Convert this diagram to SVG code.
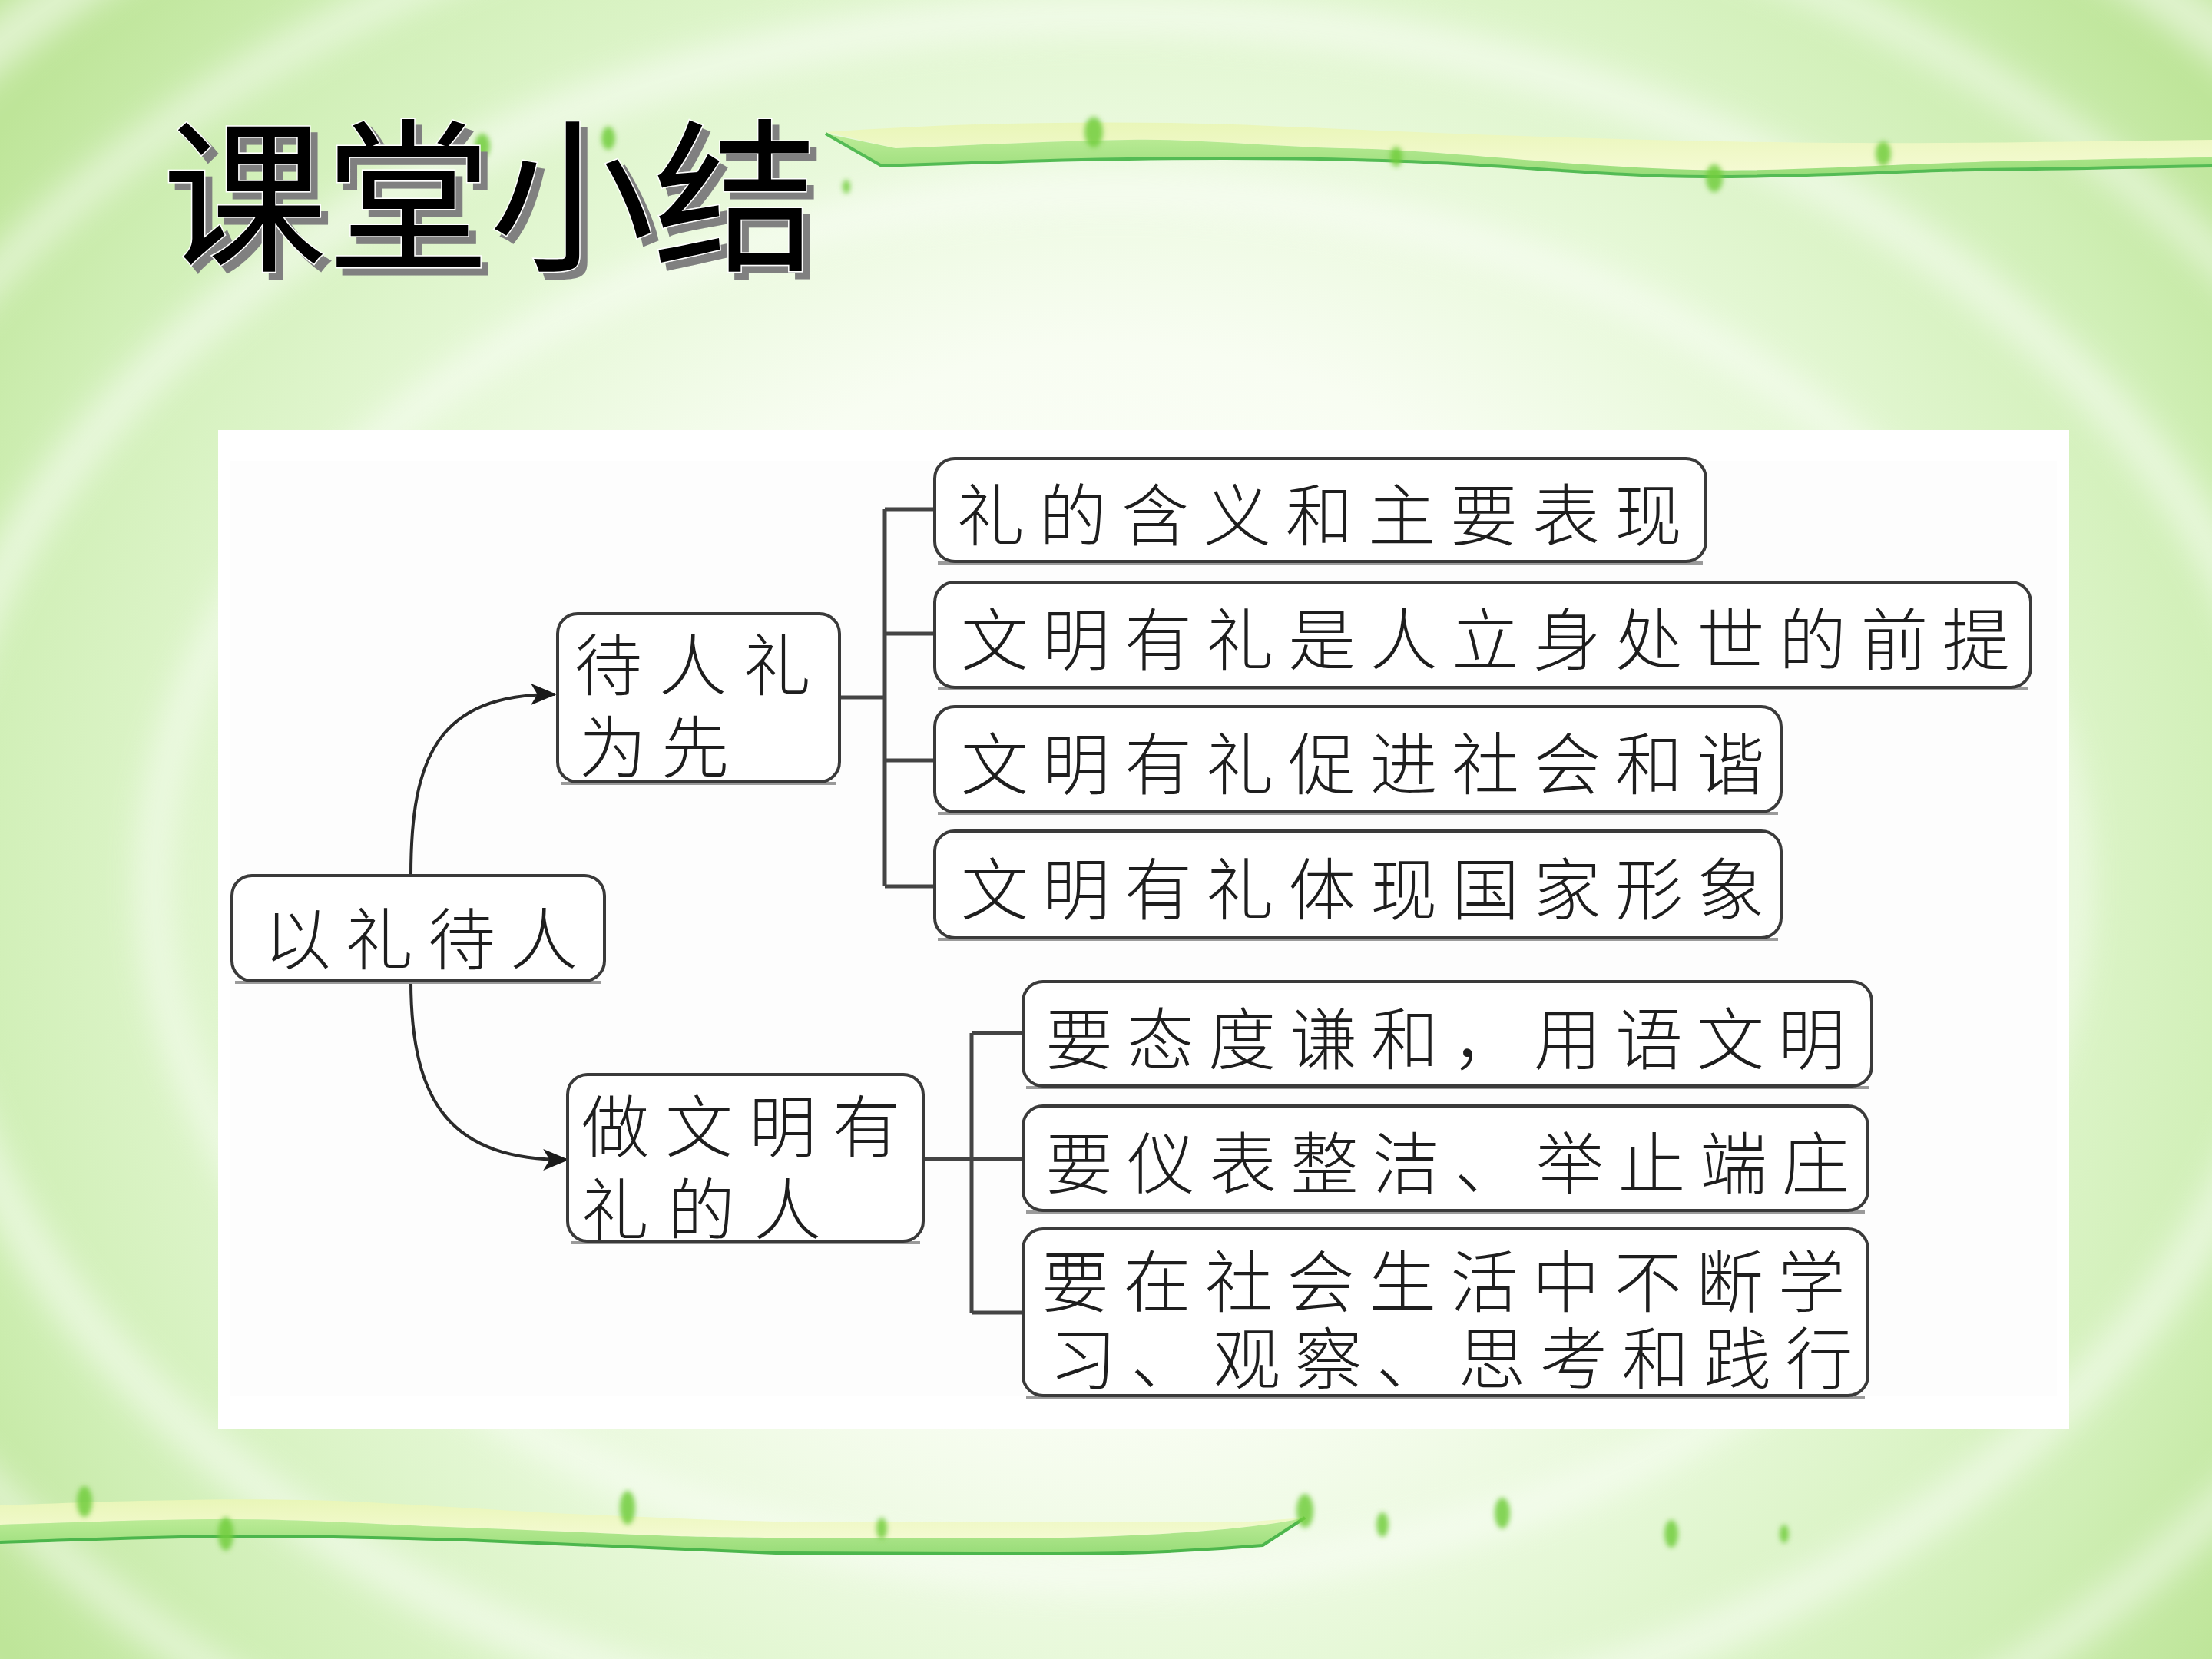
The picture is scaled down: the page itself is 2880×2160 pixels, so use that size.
<svg xmlns="http://www.w3.org/2000/svg" width="2880" height="2160" viewBox="0 0 2880 2160">
<defs>
<style>
.box{fill:#ffffff;stroke:#3a3a3a;stroke-width:4}
.shadow{fill:none;stroke:#9a9a9a;stroke-width:4}
.lbl{font-family:"Noto Sans CJK SC","Noto Sans CJK TC",sans-serif;font-size:88px;font-weight:300;fill:#1e1e1e;dominant-baseline:central}
.line{fill:none;stroke:#444444;stroke-width:5}
.arrow{fill:none;stroke:#2a2a2a;stroke-width:4}
.title{font-family:"Noto Sans CJK SC",sans-serif;font-size:215px;font-weight:400}
.leaf{fill:#72cc3c;opacity:0.85}
</style>
<radialGradient id="bg" cx="1450" cy="1150" r="1750" gradientUnits="userSpaceOnUse">
<stop offset="0" stop-color="#ffffff"/>
<stop offset="0.4" stop-color="#f8fdf2"/>
<stop offset="0.6" stop-color="#e6f8d7"/>
<stop offset="0.85" stop-color="#d0efb6"/>
<stop offset="1" stop-color="#bee599"/>
</radialGradient>
<filter id="blur" x="-20%" y="-20%" width="140%" height="140%"><feGaussianBlur stdDeviation="22"/></filter>
<filter id="blur2" x="-50%" y="-50%" width="200%" height="200%"><feGaussianBlur stdDeviation="3"/></filter>
<filter id="tshadow" x="-5%" y="-10%" width="115%" height="130%">
<feOffset in="SourceAlpha" dx="9" dy="9" result="off"/>
<feFlood flood-color="#808080"/>
<feComposite in2="off" operator="in" result="sh"/>
<feMerge><feMergeNode in="sh"/><feMergeNode in="SourceGraphic"/></feMerge>
</filter>
<linearGradient id="yel" x1="0" y1="0" x2="0" y2="1">
<stop offset="0" stop-color="#e9f6b8"/>
<stop offset="1" stop-color="#f4fad2"/>
</linearGradient>
<linearGradient id="grn" x1="0" y1="0" x2="0" y2="1">
<stop offset="0" stop-color="#bdec98"/>
<stop offset="1" stop-color="#98dc78"/>
</linearGradient>
<marker id="ahb" viewBox="0 0 12 10" refX="11" refY="5" markerWidth="36" markerHeight="28" markerUnits="userSpaceOnUse" orient="auto">
<path d="M0,0 L12,5 L0,10 L3,5 Z" fill="#1a1a1a"/>
</marker>
</defs>

<g id="background">
<rect x="0" y="0" width="2880" height="2160" fill="url(#bg)"/>
<g filter="url(#blur)" fill="none" stroke="#ffffff" opacity="0.55">
<ellipse cx="1450" cy="1150" rx="1250" ry="900" stroke-width="40"/>
<ellipse cx="1450" cy="1150" rx="1550" ry="1130" stroke-width="50"/>
<ellipse cx="1450" cy="1150" rx="1800" ry="1350" stroke-width="40"/>
<ellipse cx="1450" cy="1150" rx="2050" ry="1550" stroke-width="60"/>
</g>
</g>

<g id="top-ribbon">
<path d="M1075,172 C1250,160 1450,155 1653,164 C1850,172 2100,184 2388,186 C2600,187 2750,183 2880,182 L2880,205 C2750,207 2650,209 2572,211 C2420,216 2300,224 2204,221 C2000,214 1880,195 1745,193 C1640,190 1550,180 1469,182 C1350,184 1250,190 1166,193 Z" fill="url(#yel)"/>
<path d="M1075,174 L1166,193 C1250,190 1350,184 1469,182 C1550,180 1640,190 1745,193 C1880,195 2000,214 2204,221 C2300,224 2420,216 2572,211 C2650,209 2750,207 2880,205 L2880,216 C2800,217 2700,220 2572,221 C2480,222 2380,230 2222,230 C2090,230 1950,213 1800,209 C1700,206 1600,205 1469,207 C1380,208 1260,212 1148,216 Z" fill="url(#grn)"/>
<path d="M1075,174 L1148,216 C1260,212 1380,208 1469,207 C1600,205 1700,206 1800,209 C1950,213 2090,230 2222,230 C2380,230 2480,222 2572,221 C2700,220 2800,217 2880,216" fill="none" stroke="#54bb54" stroke-width="4"/>
<g filter="url(#blur2)">
<ellipse class="leaf" cx="1424" cy="172" rx="12" ry="20"/>
<ellipse class="leaf" cx="1818" cy="204" rx="8" ry="13"/>
<ellipse class="leaf" cx="2452" cy="200" rx="10" ry="16"/>
<ellipse class="leaf" cx="2232" cy="232" rx="11" ry="18"/>
<ellipse class="leaf" cx="792" cy="180" rx="9" ry="15"/>
<ellipse class="leaf" cx="628" cy="190" rx="10" ry="16"/>
<ellipse class="leaf" cx="1102" cy="243" rx="5" ry="9"/>
</g>
</g>

<g id="bottom-ribbon">
<path d="M0,1960 C200,1952 350,1950 459,1955 C600,1962 700,1970 790,1973 C900,1978 1000,1982 1102,1982 L1616,1982 L1699,1976 C1600,1998 1400,2003 1286,2003 C1100,2003 950,2002 882,2000 C750,1995 650,1990 551,1987 C450,1982 380,1978 294,1978 C200,1978 100,1982 0,1985 Z" fill="url(#yel)"/>
<path d="M0,1985 C100,1982 200,1978 294,1978 C380,1978 450,1982 551,1987 C650,1990 750,1995 882,2000 C950,2002 1100,2003 1286,2003 C1400,2003 1600,1998 1699,1976 L1644,2012 C1550,2020 1450,2023 1378,2023 C1250,2023 1100,2023 1010,2022 C850,2015 700,2008 606,2005 C500,2002 400,2000 331,2000 C200,2000 100,2005 0,2008 Z" fill="url(#grn)"/>
<path d="M1699,1976 L1644,2012 C1550,2020 1450,2023 1378,2023 C1250,2023 1100,2023 1010,2022 C850,2015 700,2008 606,2005 C500,2002 400,2000 331,2000 C200,2000 100,2005 0,2008" fill="none" stroke="#4cb64c" stroke-width="4"/>
<g filter="url(#blur2)">
<ellipse class="leaf" cx="110" cy="1955" rx="10" ry="20"/>
<ellipse class="leaf" cx="817" cy="1963" rx="10" ry="22"/>
<ellipse class="leaf" cx="294" cy="1997" rx="10" ry="22"/>
<ellipse class="leaf" cx="1148" cy="1990" rx="7" ry="14"/>
<ellipse class="leaf" cx="1699" cy="1967" rx="11" ry="22"/>
<ellipse class="leaf" cx="1800" cy="1985" rx="8" ry="16"/>
<ellipse class="leaf" cx="1956" cy="1970" rx="10" ry="20"/>
<ellipse class="leaf" cx="2176" cy="1997" rx="9" ry="18"/>
<ellipse class="leaf" cx="2323" cy="1997" rx="6" ry="12"/>
</g>
</g>

<g id="title" filter="url(#tshadow)">
<text class="title" x="211" y="336" fill="#000000" stroke="#ffffff" stroke-width="3" paint-order="stroke" textLength="854">课堂小结</text>
</g>

<g id="panel">
<rect x="284" y="560" width="2410" height="1301" fill="#ffffff"/>
<rect x="300" y="600" width="2378" height="1217" fill="#fdfdfd"/>
</g>

<g id="connectors">
<path class="arrow" d="M535,1140 C535,985 570,904 722,904" marker-end="url(#ahb)"/>
<path class="arrow" d="M535,1277 C535,1440 590,1510 738,1510" marker-end="url(#ahb)"/>
<path class="line" d="M1093,908 H1152 M1152,663 V1154 M1152,663 H1217 M1152,825 H1217 M1152,990 H1217 M1152,1154 H1217"/>
<path class="line" d="M1202,1509 H1265 M1265,1345 V1709 M1265,1345 H1332 M1265,1509 H1332 M1265,1709 H1332"/>
</g>

<g id="n-root">
<path class="shadow" d="M306,1279 H783"/>
<rect class="box" x="302" y="1140" width="485" height="137" rx="26"/>
<text class="lbl" x="343" y="1216" style="letter-spacing:19px">以礼待人</text>
</g>

<g id="n-a">
<path class="shadow" d="M730,1020 H1089"/>
<rect class="box" x="726" y="799" width="367" height="219" rx="26"/>
<text class="lbl"><tspan x="748" y="859" style="letter-spacing:22px">待人礼</tspan><tspan x="754" y="966" style="letter-spacing:19px">为先</tspan></text>
</g>

<g id="n-b">
<path class="shadow" d="M743,1618 H1198"/>
<rect class="box" x="739" y="1399" width="463" height="217" rx="26"/>
<text class="lbl"><tspan x="757" y="1460" style="letter-spacing:21px">做文明有</tspan><tspan x="757" y="1568" style="letter-spacing:24px">礼的人</tspan></text>
</g>

<g id="n-a1">
<path class="shadow" d="M1221,733 H2217"/>
<rect class="box" x="1217" y="597" width="1004" height="134" rx="26"/>
<text class="lbl" x="1246" y="664" style="letter-spacing:19px">礼的含义和主要表现</text>
</g>

<g id="n-a2">
<path class="shadow" d="M1221,897 H2640"/>
<rect class="box" x="1217" y="758" width="1427" height="137" rx="26"/>
<text class="lbl" x="1251" y="826" style="letter-spacing:18.5px">文明有礼是人立身处世的前提</text>
</g>

<g id="n-a3">
<path class="shadow" d="M1221,1059 H2315"/>
<rect class="box" x="1217" y="920" width="1102" height="137" rx="26"/>
<text class="lbl" x="1251" y="988" style="letter-spacing:18.5px">文明有礼促进社会和谐</text>
</g>

<g id="n-a4">
<path class="shadow" d="M1221,1223 H2315"/>
<rect class="box" x="1217" y="1082" width="1102" height="139" rx="26"/>
<text class="lbl" x="1251" y="1151" style="letter-spacing:18.5px">文明有礼体现国家形象</text>
</g>

<g id="n-b1">
<path class="shadow" d="M1336,1416 H2433"/>
<rect class="box" x="1332" y="1278" width="1105" height="136" rx="26"/>
<text class="lbl" x="1361" y="1346" style="letter-spacing:18px">要态度谦和，用语文明</text>
</g>

<g id="n-b2">
<path class="shadow" d="M1336,1578 H2428"/>
<rect class="box" x="1332" y="1440" width="1100" height="136" rx="26"/>
<text class="lbl" x="1361" y="1508" style="letter-spacing:18.5px">要仪表整洁、举止端庄</text>
</g>

<g id="n-b3">
<path class="shadow" d="M1336,1819 H2428"/>
<rect class="box" x="1332" y="1600" width="1100" height="217" rx="26"/>
<text class="lbl"><tspan x="1356" y="1662" style="letter-spacing:18.5px">要在社会生活中不断学</tspan><tspan x="1366" y="1762" style="letter-spacing:18.5px">习、观察、思考和践行</tspan></text>
</g>
</svg>
